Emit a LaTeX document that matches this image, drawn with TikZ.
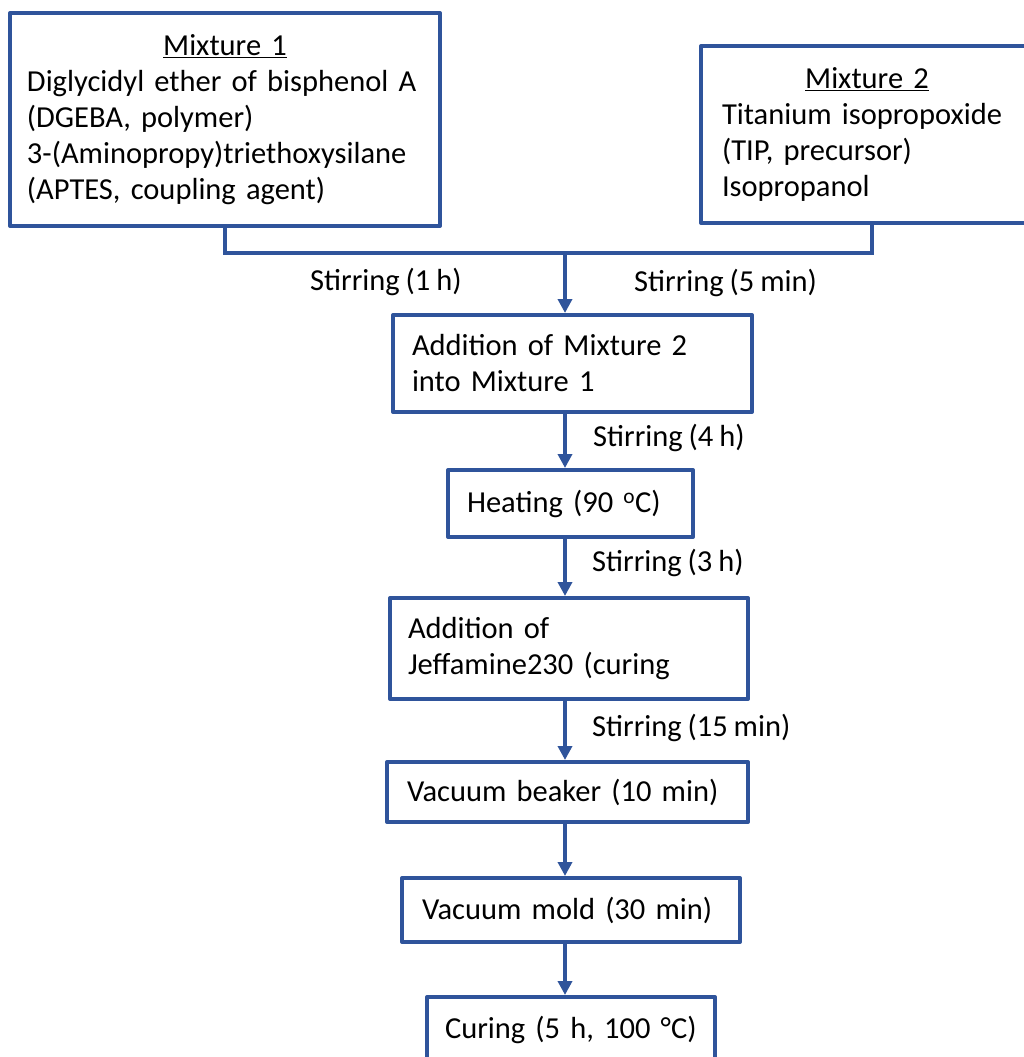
\documentclass[tikz,border=0pt]{standalone}
\usepackage{fontspec}
\setmainfont{Carlito}[WordSpace=0.85]
\usetikzlibrary{arrows.meta,calc}
\definecolor{flowblue}{RGB}{47,84,155}
\begin{document}
\begin{tikzpicture}[x=1pt,y=-1pt,
  every node/.style={font=\fontsize{30.5}{36}\selectfont, text=black},
  box/.style={draw=flowblue, line width=4pt, line join=round, rectangle, inner sep=0pt, align=left},
  lbl/.style={anchor=west, inner sep=0pt},
  conn/.style={draw=flowblue, line width=4pt},
  arr/.style={conn, -{Triangle[length=14pt,width=14pt]}}]
\useasboundingbox (0,0) rectangle (1023,1057);
% boxes
\node[box, minimum width=430pt, minimum height=213pt, text width=396pt] (b1) at (225,119.5)
  {\makebox[396pt][c]{\underline{Mixture 1}}\\Diglycidyl ether of bisphenol A\\(DGEBA, polymer)\\3-(Aminopropy)triethoxysilane\\(APTES, coupling agent)};
\node[box, minimum width=332pt, minimum height=177pt, text width=290pt] (b2) at (867,134.5)
  {\makebox[290pt][c]{\underline{Mixture 2}}\\Titanium isopropoxide\\(TIP, precursor)\\Isopropanol};
\node[box, minimum width=359pt, minimum height=97pt, text width=321pt] (b3) at (572.5,363.5)
  {Addition of Mixture 2\\into Mixture 1};
\node[box, minimum width=245pt, minimum height=67pt, text width=207pt] (b4) at (570.5,503.5)
  {Heating (90 \textsuperscript{o}C)};
\node[box, minimum width=358pt, minimum height=101pt, text width=322pt] (b5) at (569,648.5)
  {Addition of\\Jeffamine230 (curing};
\node[box, minimum width=361pt, minimum height=60pt, text width=321pt] (b6) at (567.5,792)
  {Vacuum beaker (10 min)};
\node[box, minimum width=338pt, minimum height=64pt, text width=298pt] (b7) at (571,910)
  {Vacuum mold (30 min)};
\node[box, minimum width=288pt, minimum height=66pt, text width=252pt] (b8) at (571,1030)
  {Curing (5 h, 100 °C)};
% connector coordinates
\coordinate (spine) at (565,0);
\coordinate (m2x) at (872,0);
\coordinate (join) at (565,253);
\draw[conn, line join=miter] (b1.south) -- (b1.south |- join) -- (m2x |- join) -- (m2x |- b2.south);
\draw[arr] (join) -- (join |- b3.north);
\draw[arr] (b3.south -| spine) -- (b4.north -| spine);
\draw[arr] (b4.south -| spine) -- (b5.north -| spine);
\draw[arr] (b5.south -| spine) -- (b6.north -| spine);
\draw[arr] (b6.south -| spine) -- (b7.north -| spine);
\draw[arr] (b7.south -| spine) -- (b8.north -| spine);
% labels
\node[lbl] (s1) at (310,282) {Stirring (1 h)};
\node[lbl] (s2) at (634,283) {Stirring (5 min)};
\node[lbl] (s3) at (593,438) {Stirring (4 h)};
\node[lbl] (s4) at (592,563) {Stirring (3 h)};
\node[lbl] (s5) at (592,728) {Stirring (15 min)};
\end{tikzpicture}
\end{document}
